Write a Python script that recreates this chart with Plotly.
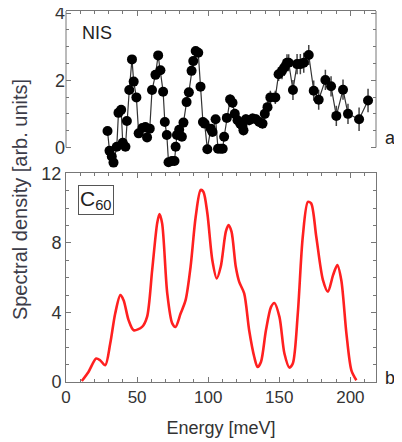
import plotly.graph_objects as go

# ---- Data: NIS (top panel) ----
nis_energy = [29.2, 30.6, 32.2, 33.4, 35.7, 36.9, 38.8, 39.9, 41.8, 42.8, 44.5, 46.4, 47.6, 49.5,
              51.1, 53.7, 55.8, 57.0, 58.9, 60.5, 62.9, 64.8, 66.4, 68.3, 69.5, 70.9, 72.1, 74.5,
              76.3, 77.1, 78.0, 79.6, 81.5, 82.6, 84.8, 86.4, 88.3, 89.5, 91.2, 93.0, 94.6, 96.3,
              97.5, 99.4, 101.8, 103.0, 105.2, 106.9, 108.8, 110.2, 111.2, 113.1, 115.4, 117.1,
              118.7, 120.6, 122.5, 124.1, 124.8, 126.5, 128.8, 131.2, 133.6, 135.9, 138.2, 139.8,
              141.7, 143.7, 147.2, 149.5, 151.9, 153.5, 155.4, 156.6, 159.6, 162.5, 164.8, 167.2,
              170.7, 174.2, 177.7, 182.4, 186.4, 190.1, 194.8, 198.3, 206.1, 212.4]
nis_value = [0.49, -0.10, -0.27, -0.45, 0.02, 1.03, 1.12, 0.14, 0.02, 0.79, 1.71, 2.62, 1.96, 1.49,
             0.42, 0.58, 0.61, 0.30, 0.56, 1.71, 2.16, 2.74, 2.30, 1.66, 0.76, 0.37, -0.44, -0.40,
             -0.40, 0.02, 0.37, 0.53, 0.32, 0.74, 1.35, 1.64, 2.28, 2.57, 2.87, 2.82, 1.81, 0.76,
             0.71, -0.05, 0.56, 0.46, 0.84, -0.04, -0.04, -0.04, 0.32, 0.88, 1.43, 1.33,
             1.00, 0.81, 0.71, 0.64, 0.51, 0.84, 0.81, 0.86, 0.84, 0.76, 0.71, 1.00,
             1.20, 1.49, 1.49, 2.18, 2.28, 2.38, 2.52, 2.52, 1.71, 2.48, 2.48, 2.52,
             2.75, 1.69, 1.42, 2.01, 1.82, 0.94, 1.72, 1.00, 0.84, 1.40]
nis_error = [0.08, 0.08, 0.08, 0.08, 0.08, 0.1, 0.1, 0.1, 0.1, 0.1, 0.1, 0.1, 0.1, 0.1,
             0.1, 0.1, 0.1, 0.1, 0.1, 0.1, 0.1, 0.1, 0.1, 0.1, 0.1, 0.1, 0.1, 0.1,
             0.1, 0.1, 0.1, 0.1, 0.1, 0.1, 0.1, 0.1, 0.1, 0.1, 0.1, 0.1, 0.1, 0.1,
             0.1, 0.1, 0.12, 0.12, 0.12, 0.12, 0.12, 0.12, 0.12, 0.12, 0.15, 0.15,
             0.15, 0.15, 0.15, 0.15, 0.15, 0.15, 0.15, 0.15, 0.15, 0.15, 0.15, 0.15,
             0.2, 0.2, 0.2, 0.2, 0.25, 0.25, 0.25, 0.25, 0.3, 0.3, 0.3, 0.3,
             0.3, 0.3, 0.3, 0.3, 0.3, 0.3, 0.3, 0.3, 0.35, 0.35]

# ---- Data: C60 spectral density (bottom panel) ----
c60_energy = [11.1, 15.8, 21.2, 24.0, 27.6, 31.1, 34.6, 38.2, 40.5, 44.0, 47.6, 53.5, 57.0, 60.6,
              64.1, 65.7, 67.6, 71.2, 74.7, 77.0, 80.6, 84.1, 87.6, 91.2, 94.7, 96.6, 99.4, 102.9,
              106.0, 108.8, 112.4, 114.3, 116.4, 119.4, 121.8, 125.3, 128.8, 132.4, 134.7, 137.1,
              140.6, 144.2, 146.5, 150.1, 153.6, 157.1, 159.5, 163.0, 166.5, 170.1, 172.4, 176.0,
              180.7, 184.2, 187.8, 190.8, 193.6, 197.2, 200.7, 204.2]
c60_value = [0.06, 0.58, 1.35, 1.25, 0.96, 2.21, 3.94, 5.0, 4.71, 3.56, 2.98, 3.17, 3.75, 6.44,
             9.13, 9.67, 9.13, 5.1, 3.37, 3.17, 3.94, 4.71, 6.63, 9.51, 11.05, 10.95, 9.71, 7.01,
             5.96, 6.63, 8.65, 9.03, 8.65, 6.63, 5.76, 5.1, 2.98, 1.44, 0.86, 1.15,
             2.98, 4.32, 4.55, 3.75, 1.64, 0.83, 1.06, 3.94, 8.36, 10.37, 10.28, 8.36,
             5.86, 5.19, 6.15, 6.73, 5.86, 2.79, 0.67, 0.1]

x_major = [0, 50, 100, 150, 200]
x_minor = [v for v in range(0, 220, 10)]
top_y_major = [0, 2, 4]
top_y_minor = [0.5, 1, 1.5, 2.5, 3, 3.5]
bot_y_major = [0, 4, 8, 12]
bot_y_minor = [1, 2, 3, 5, 6, 7, 9, 10, 11]

AX = "#777777"
TXT = "#333333"
FONT = "Liberation Sans, Arial, sans-serif"

fig = go.Figure()

fig.add_trace(go.Scatter(
    x=nis_energy, y=nis_value, mode="lines+markers",
    line=dict(color="#333333", width=1.2),
    marker=dict(color="#000000", size=10),
    error_y=dict(type="data", array=nis_error, color="#444444", thickness=1.5, width=0),
    xaxis="x", yaxis="y", cliponaxis=False, showlegend=False))

fig.add_trace(go.Scatter(
    x=c60_energy, y=c60_value, mode="lines",
    line=dict(color="#ff2020", width=2.6, shape="spline", smoothing=0.8),
    xaxis="x2", yaxis="y2", showlegend=False))

common_x = dict(range=[0, 218], ticks="inside", ticklen=5, tickcolor=AX,
                tickvals=x_major, showgrid=False, zeroline=False, automargin=False,
                minor=dict(tickmode="array", tickvals=x_minor, ticklen=3, tickcolor=AX, ticks="inside"))

# page body adds an 8px offset; margins compensate
fig.update_layout(
    width=402, height=442,
    margin=dict(l=58, r=34, t=3, b=68),
    paper_bgcolor="white", plot_bgcolor="white",
    font=dict(family=FONT, color=TXT, size=17),
    xaxis=dict(**common_x, anchor="y", side="top", showticklabels=False,
               showline=True, linecolor=AX, linewidth=1),
    yaxis=dict(domain=[0.5868, 1.0], range=[-0.5, 4.06], anchor="x", automargin=False,
               ticks="inside", ticklen=5, tickcolor=AX, mirror="ticks",
               tickvals=top_y_major, showline=False, showgrid=False, zeroline=False,
               ticklabeloverflow="allow",
               minor=dict(tickmode="array", tickvals=top_y_minor, ticklen=3, tickcolor=AX, ticks="inside"),
               tickfont=dict(size=18)),
    xaxis2=dict(**common_x, anchor="y2", showline=True, linecolor=AX, linewidth=1, mirror="ticks",
                tickfont=dict(size=17),
                title=dict(text="Energy [meV]", font=dict(size=18), standoff=14)),
    yaxis2=dict(domain=[0.0, 0.562], range=[0, 12], anchor="x2", automargin=False,
                ticks="inside", ticklen=5, tickcolor=AX, mirror="ticks",
                tickvals=bot_y_major, showline=True, linecolor=AX, linewidth=1,
                showgrid=False, zeroline=False,
                minor=dict(tickmode="array", tickvals=bot_y_minor,
                           ticklen=3, tickcolor=AX, ticks="inside"),
                tickfont=dict(size=18)),
)

# top panel side lines (from 0 up to the top)
for xd in (0, 1):
    fig.add_shape(type="line", xref="x domain", yref="y", x0=xd, x1=xd, y0=0, y1=4.06,
                  line=dict(color=AX, width=1))

fig.add_annotation(text="NIS", xref="paper", yref="paper", x=0.1, y=0.9407,
                   showarrow=False, font=dict(size=18, color="#222"), xanchor="center", yanchor="middle")
fig.add_annotation(text="C<sub>60</sub>", xref="paper", yref="paper", x=0.039, y=0.531,
                   xanchor="left", yanchor="top", showarrow=False,
                   font=dict(size=21, color="#222"), bordercolor="#555", borderwidth=1, borderpad=1)
fig.add_annotation(text="a)", xref="paper", yref="paper", x=1.022, y=0.6577,
                   xanchor="left", yanchor="middle", showarrow=False, font=dict(size=18, color="#222"))
fig.add_annotation(text="b)", xref="paper", yref="paper", x=1.022, y=0.0108,
                   xanchor="left", yanchor="middle", showarrow=False, font=dict(size=18, color="#222"))
fig.add_annotation(text="Spectral density [arb. units]", xref="paper", yref="paper",
                   x=-0.148, y=0.4906, textangle=-90, showarrow=False,
                   xanchor="center", yanchor="middle",
                   font=dict(size=20, color="#3c3c48"))

fig.write_html("out.html")
